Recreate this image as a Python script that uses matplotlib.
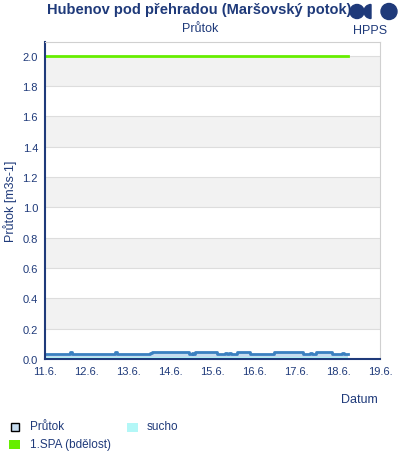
import matplotlib
matplotlib.use("Agg")
import matplotlib.pyplot as plt
from matplotlib.patches import Circle, Wedge, Rectangle
import numpy as np

plt.rcParams['font.family'] = ['Liberation Sans', 'DejaVu Sans']

# time in days since 11.6. 00:00, step values of flow [m3/s]
t = [0, 0.60, 0.64, 1.68, 1.72, 2.50, 2.55, 3.44, 3.50, 3.54, 3.58, 4.11, 4.30, 4.34,
     4.40, 4.44, 4.59, 4.90, 5.47, 6.15, 6.34, 6.38, 6.46, 6.85, 7.10, 7.14, 7.23]
q = [0.033, 0.046, 0.033, 0.046, 0.033, 0.040, 0.046, 0.033, 0.040, 0.033, 0.046, 0.033, 0.040, 0.033,
     0.040, 0.033, 0.046, 0.033, 0.046, 0.033, 0.040, 0.033, 0.046, 0.033, 0.040, 0.033, 0.033]
sucho = 0.015
spa1 = 2.0
xticks = [0, 1, 2, 3, 4, 5, 6, 7, 8]
xlabels = ['11.6.', '12.6.', '13.6.', '14.6.', '15.6.', '16.6.', '17.6.', '18.6.', '19.6.']
yticks = [0.0, 0.2, 0.4, 0.6, 0.8, 1.0, 1.2, 1.4, 1.6, 1.8, 2.0]

navy = '#1f3a7a'

fig = plt.figure(figsize=(4, 4.6), dpi=100)
ax = fig.add_axes([45/400, 100/460, 335/400, 317/460])

for y0 in yticks[1:-1:2]:
    ax.axhspan(y0, y0 + 0.2, color='#f2f2f2', lw=0, zorder=0)
for y0 in yticks[1:]:
    ax.axhline(y0, color='#dddddd', lw=0.8, zorder=0.5)

ax.fill_between([t[0], t[-1]], 0, sucho, color='#b3f7f7', lw=0, zorder=1)
ax.fill_between(t, sucho, q, step='post', color='#c6dcef', lw=0, zorder=1)
ax.step(t, q, where='post', color='#3a80c0', lw=2, zorder=2)
ax.plot([t[0], t[-1]], [spa1, spa1], color='#66ee00', lw=2, zorder=2)

ax.set_xlim(0, 8)
ax.set_ylim(0, 2.09)
ax.set_xticks(xticks)
ax.set_xticklabels(xlabels)
ax.set_yticks(yticks)
ax.set_yticklabels(['%.1f' % v for v in yticks])
ax.tick_params(length=0, labelsize=8, colors=navy, pad=5)
for s in ['top', 'right']:
    ax.spines[s].set_color('#d0d0d0')
for s in ['left', 'bottom']:
    ax.spines[s].set_color(navy)
    ax.spines[s].set_linewidth(1.5)
ax.set_ylabel('Průtok [m3s-1]', color=navy, fontsize=9, labelpad=4)

fig.text(199/400, 1 - 10/460, 'Hubenov pod přehradou (Maršovský potok)', ha='center', va='center',
         fontsize=10.5, fontweight='bold', color=navy)
fig.text(200/400, 1 - 29/460, 'Průtok', ha='center', va='center', fontsize=9, color=navy)
fig.text(378/400, 1 - 400/460, 'Datum', ha='right', va='center', fontsize=9, color=navy)

# logo
lg = fig.add_axes([345/400, 1 - 25/460, 55/400, 25/460])
lg.set_xlim(345, 400)
lg.set_ylim(25, 0)
lg.axis('off')
lg.add_patch(Circle((357, 12.5), 7, color=navy))
lg.add_patch(Wedge((371, 12.5), 7, 90, 270, color=navy))
lg.add_patch(Circle((389, 12.5), 8, color=navy))
fig.text(370/400, 1 - 31/460, 'HPPS', ha='center', va='center', fontsize=9, color=navy)

# legend
fig.patches.append(Rectangle((11/400, 1 - 432/460), 8/400, 8/460, transform=fig.transFigure,
                             facecolor='#c6dcef', edgecolor='black', lw=1))
fig.text(30/400, 1 - 427/460, 'Průtok', va='center', fontsize=8.5, color=navy)
fig.patches.append(Rectangle((127/400, 1 - 433/460), 11/400, 9/460, transform=fig.transFigure,
                             facecolor='#b3f7f7', edgecolor='none'))
fig.text(147/400, 1 - 427/460, 'sucho', va='center', fontsize=8.5, color=navy)
fig.patches.append(Rectangle((9/400, 1 - 450/460), 11/400, 9/460, transform=fig.transFigure,
                             facecolor='#66ee00', edgecolor='none'))
fig.text(30/400, 1 - 445/460, '1.SPA (bdělost)', va='center', fontsize=8.5, color=navy)

fig.savefig('out.png', dpi=100)
